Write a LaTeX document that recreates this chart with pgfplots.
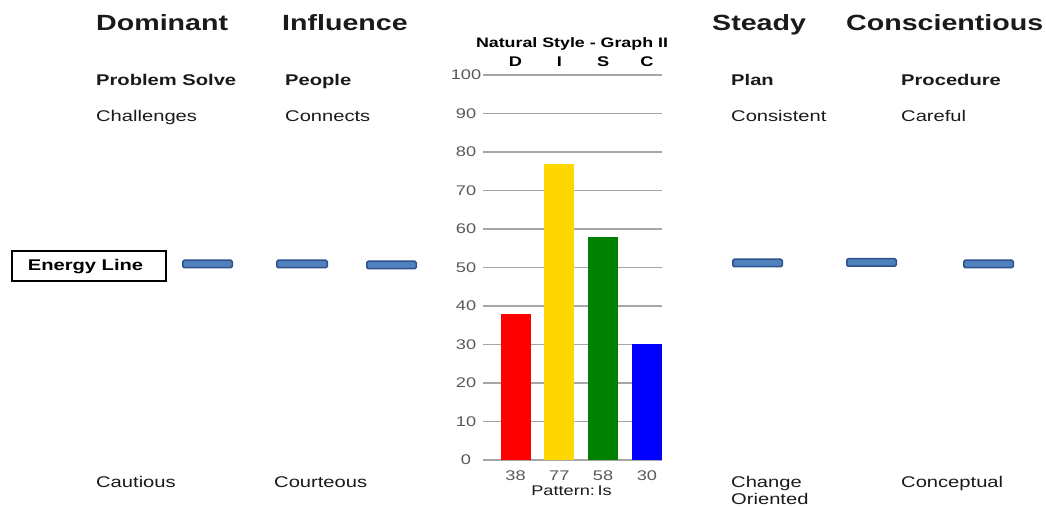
\documentclass[border=0pt]{standalone}
\usepackage{pgfplots}
\pgfplotsset{compat=1.18}
\usepackage{fontspec}
\setmainfont{Liberation Sans}
\newcommand\hs[1]{\scalebox{1.3}[1]{#1}}
\newcommand\fs[1]{\fontsize{#1}{#1}\selectfont}
\definecolor{dashfill}{HTML}{4F81BD}
\definecolor{dashdraw}{HTML}{2F528F}
\definecolor{gridc}{HTML}{A6A6A6}
\definecolor{tickc}{HTML}{595959}
\definecolor{barD}{HTML}{FF0000}
\definecolor{barI}{HTML}{FFD700}
\definecolor{barS}{HTML}{008000}
\definecolor{barC}{HTML}{0000FF}
\definecolor{txt}{HTML}{1A1A1A}
\newcommand\T[4]{\node[anchor=base west, inner sep=0, text=txt] at (#1,{506-#2}) {\fs{#3}#4};}
\begin{document}
\begin{tikzpicture}[x=1pt,y=1pt]
\useasboundingbox (0,0) rectangle (1046,506);
% energy line dashes
\begin{axis}[at={(0pt,0pt)}, anchor=south west, scale only axis, width=1046pt, height=506pt,
  xmin=0, xmax=1046, ymin=0, ymax=506, hide axis, clip=false]
\addplot[fill=dashfill, draw=dashdraw, line width=1.5pt, rounded corners=1.5pt] coordinates {(182.75,238.25)(232.25,238.25)(232.25,245.75)(182.75,245.75)} --cycle;
\addplot[fill=dashfill, draw=dashdraw, line width=1.5pt, rounded corners=1.5pt] coordinates {(276.75,238.25)(327.25,238.25)(327.25,245.75)(276.75,245.75)} --cycle;
\addplot[fill=dashfill, draw=dashdraw, line width=1.5pt, rounded corners=1.5pt] coordinates {(366.75,237.25)(416.25,237.25)(416.25,244.75)(366.75,244.75)} --cycle;
\addplot[fill=dashfill, draw=dashdraw, line width=1.5pt, rounded corners=1.5pt] coordinates {(732.75,239.25)(782.25,239.25)(782.25,246.75)(732.75,246.75)} --cycle;
\addplot[fill=dashfill, draw=dashdraw, line width=1.5pt, rounded corners=1.5pt] coordinates {(846.75,239.75)(896.25,239.75)(896.25,247.25)(846.75,247.25)} --cycle;
\addplot[fill=dashfill, draw=dashdraw, line width=1.5pt, rounded corners=1.5pt] coordinates {(963.75,238.25)(1013.25,238.25)(1013.25,245.75)(963.75,245.75)} --cycle;
\end{axis}
% bar chart
\begin{axis}[at={(483pt,46pt)}, anchor=south west, scale only axis, width=179pt, height=385pt,
  xmin=-0.742, xmax=3.345, ymin=0, ymax=100,
  ytick={0,10,20,30,40,50,60,70,80,90,100},
  yticklabels={\hs{0},\hs{10},\hs{20},\hs{30},\hs{40},\hs{50},\hs{60},\hs{70},\hs{80},\hs{90},\hs{100}},
  xtick={0,1,2,3}, xticklabels={\hs{38},\hs{77},\hs{58},\hs{30}},
  ymajorgrids, grid style={draw=gridc, line width=1.2pt},
  axis line style={draw=none}, major tick length=0pt, tick style={draw=none},
  yticklabel style={anchor=center, xshift=-17pt, font=\fs{14}, text=tickc},
  xticklabel style={anchor=center, yshift=-15.5pt, font=\fs{14}, text=tickc},
  ybar, bar width=30pt, bar shift=0pt, clip=false]
\addplot[ybar, fill=barD, draw=none] coordinates {(0,38)};
\addplot[ybar, fill=barI, draw=none] coordinates {(1,77)};
\addplot[ybar, fill=barS, draw=none] coordinates {(2,58)};
\addplot[ybar, fill=barC, draw=none] coordinates {(3,30)};
\node[anchor=base, inner sep=0] at (axis cs:0,102.1) {\fs{14}\bfseries\hs{D}};
\node[anchor=base, inner sep=0] at (axis cs:1,102.1) {\fs{14}\bfseries\hs{I}};
\node[anchor=base, inner sep=0] at (axis cs:2,102.1) {\fs{14}\bfseries\hs{S}};
\node[anchor=base, inner sep=0] at (axis cs:3,102.1) {\fs{14}\bfseries\hs{C}};
\end{axis}
\node[anchor=base, inner sep=0] at (572,458) {\fs{13.7}\bfseries\hs{Natural Style - Graph II}};
\node[anchor=base, inner sep=0, text=txt] at (571.5,10.5) {\fs{14}\hs{Pattern:\kern2pt Is}};
% headings
\T{96}{31}{22}{\bfseries\hs{Dominant}}
\T{282}{31}{22}{\bfseries\hs{Influence}}
\T{712}{31}{22}{\bfseries\hs{Steady}}
\T{846}{31}{22}{\bfseries\hs{Conscientious}}
\T{96}{86}{15.5}{\bfseries\hs{Problem Solve}}
\T{285}{86}{15.5}{\bfseries\hs{People}}
\T{731}{86}{15.5}{\bfseries\hs{Plan}}
\T{901}{86}{15.5}{\bfseries\hs{Procedure}}
\T{96}{122}{15.5}{\hs{Challenges}}
\T{285}{122}{15.5}{\hs{Connects}}
\T{731}{122}{15.5}{\hs{Consistent}}
\T{901}{122}{15.5}{\hs{Careful}}
\T{96}{487}{15.5}{\hs{Cautious}}
\T{274}{487}{15.5}{\hs{Courteous}}
\T{731}{487}{15.5}{\hs{Change}}
\T{731}{504}{15.5}{\hs{Oriented}}
\T{901}{487}{15.5}{\hs{Conceptual}}
\node[draw=black, line width=1.3pt, minimum width=154pt, minimum height=30pt, inner sep=0] at (89,240) {};
\node[inner sep=0] at (85.5,239) {\fs{15.5}\bfseries\hs{Energy Line}};
\end{tikzpicture}
\end{document}
